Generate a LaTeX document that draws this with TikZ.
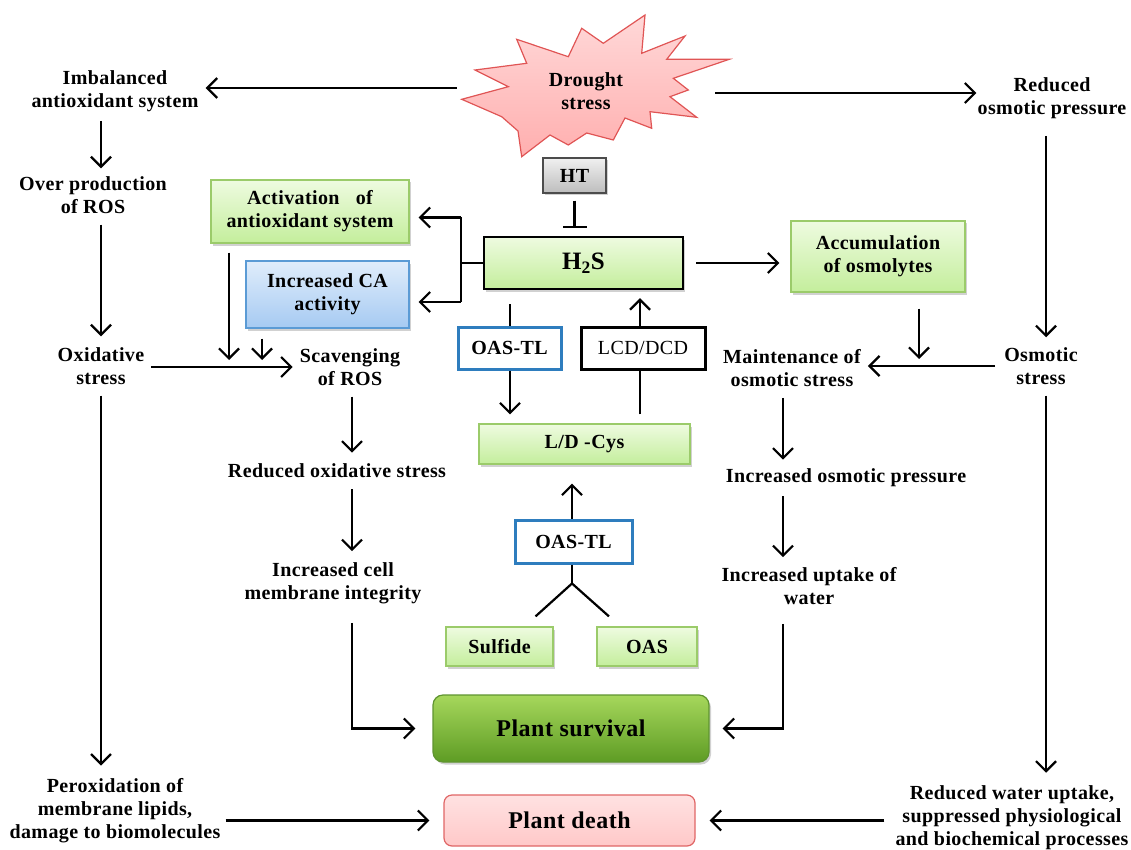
\documentclass[tikz,border=0pt]{standalone}
\usepackage{fontspec}
\setmainfont{Liberation Serif}[LetterSpace=2]
\usetikzlibrary{arrows.meta,shadows,calc}
\definecolor{gtop}{HTML}{EEFBE0}
\definecolor{gbot}{HTML}{C4EE9C}
\definecolor{gbord}{HTML}{9BCB6A}
\definecolor{btop}{HTML}{E0EDFB}
\definecolor{bbot}{HTML}{A6CAF2}
\definecolor{bbord}{HTML}{5B9BD5}
\definecolor{oasbord}{HTML}{2E7DBE}
\definecolor{htop}{HTML}{F0F0F0}
\definecolor{hbot}{HTML}{BDBDBD}
\definecolor{stop}{HTML}{A6D75C}
\definecolor{sbot}{HTML}{5E9C24}
\definecolor{sbord}{HTML}{5F9430}
\definecolor{dtop}{HTML}{FFE2E2}
\definecolor{dbot}{HTML}{FFC8C8}
\definecolor{dbord}{HTML}{E06666}
\definecolor{startop}{HTML}{FFD8D8}
\definecolor{starbot}{HTML}{FFAFAF}
\definecolor{starbord}{HTML}{E05555}
\begin{document}
\begin{tikzpicture}[x=1pt,y=-1pt,
  every node/.style={font=\fontsize{20}{23}\selectfont\bfseries},
  txt/.style={align=center,inner sep=5pt},
  ln/.style={line width=2.2pt},
  arr/.style={ln,-{Straight Barb[length=10pt,width=20pt,line width=2.2pt]}},
  shad/.style={drop shadow={shadow xshift=2pt,shadow yshift=-2.5pt,opacity=.3,fill=black!60}},
  gbox/.style={draw=gbord,line width=1.2pt,top color=gtop,bottom color=gbot,shad,inner sep=0pt,align=center},
  bbox/.style={draw=bbord,line width=1.2pt,top color=btop,bottom color=bbot,shad,inner sep=0pt,align=center},
  obox/.style={draw=oasbord,line width=3pt,fill=white,inner sep=0pt,align=center},
  kbox/.style={draw=black,line width=3pt,fill=white,inner sep=0pt,align=center,font=\fontsize{20}{23}\selectfont},
]
\useasboundingbox (0,0) rectangle (1131,850);

% column coordinates
\coordinate (cL) at (101,0);
\coordinate (cM) at (352,0);
\coordinate (cR1) at (783,0);
\coordinate (cR) at (1046,0);
\coordinate (cAct) at (229,0);
\coordinate (cCa) at (262,0);
\coordinate (cAcc) at (919,0);
\coordinate (cOas) at (510,0);
\coordinate (cLcd) at (640,0);
\coordinate (cMid) at (572,0);

% drought star
\draw[draw=starbord,line width=1.2pt,top color=startop,bottom color=starbot]
  (516.7,39.3) -- (568.3,56.7) -- (581.7,28.3) -- (603.3,43.3) -- (645,15)
  -- (641.7,53.3) -- (685,36) -- (666.7,59.3) -- (729.3,59.3) -- (673.3,78.3)
  -- (688.3,90) -- (670,96.7) -- (696.7,117.3) -- (650,111.7) -- (651.7,128.3)
  -- (625,118) -- (613.3,140) -- (586.7,133) -- (568.3,145) -- (550,135)
  -- (521.7,156.7) -- (518,131) -- (501.7,116.7) -- (461.7,99.3)
  -- (508.3,86.7) -- (475,70) -- (526.7,63.3) -- cycle;
\node[align=center,inner sep=0pt,minimum width=253pt,minimum height=40pt] (drought) at (586,91) {Drought\\stress};

% plain text nodes
\node[txt] (imb) at (115,91) {Imbalanced\\antioxidant system};
\node[txt] (over) at (93,195) {Over production\\of ROS};
\node[txt] (oxi) at (101,366) {Oxidative\\stress};
\node[txt] (perox) at (115,811) {Peroxidation of\\membrane lipids,\\damage to biomolecules};
\node[txt] (red) at (1052,98) {Reduced\\osmotic pressure};
\node[txt] (osm) at (1041,366) {Osmotic\\stress};
\node[txt] (rwu) at (1012,818) {Reduced water uptake,\\suppressed physiological\\and biochemical processes};
\node[txt] (scav) at (350,367) {Scavenging\\of ROS};
\node[txt] (rox) at (337,471) {Reduced oxidative stress};
\node[txt] (icm) at (333,583) {Increased cell\\membrane integrity};
\node[txt] (maint) at (792,368) {Maintenance of\\osmotic stress};
\node[txt] (iop) at (846,478) {Increased osmotic pressure};
\node[txt] (iuw) at (809,586) {Increased uptake of\\water};

% boxes
\node[gbox,minimum width=198pt,minimum height=63pt] (act) at (310,211.5) {Activation~~~of\\antioxidant system};
\node[bbox,minimum width=163pt,minimum height=67pt] (ca) at (327.5,294.5) {Increased CA\\activity};
\node[draw=black!70,line width=1.2pt,top color=htop,bottom color=hbot,shad,inner sep=0pt,minimum width=63pt,minimum height=35pt] (ht) at (574.5,175.5) {HT};
\node[draw=black,line width=2.4pt,top color=gtop,bottom color=gbot,shad,inner sep=0pt,minimum width=199pt,minimum height=52pt,font=\fontsize{25}{28}\selectfont\bfseries] (h2s) at (583.5,263) {H\textsubscript{2}S};
\node[gbox,minimum width=174pt,minimum height=71pt] (acc) at (878,256.5) {Accumulation\\of osmolytes};
\node[obox,minimum width=103pt,minimum height=42pt] (oas1) at (509.5,348) {OAS-TL};
\node[kbox,minimum width=124pt,minimum height=42pt] (lcd) at (643,348) {LCD/DCD};
\node[gbox,minimum width=211pt,minimum height=40pt] (cys) at (584.5,444) {L/D -Cys};
\node[obox,minimum width=117pt,minimum height=43pt] (oas2) at (573.5,541.5) {OAS-TL};
\node[gbox,minimum width=107pt,minimum height=39pt] (sulf) at (499.5,646.5) {Sulfide};
\node[gbox,minimum width=100pt,minimum height=39pt] (oas) at (647,646.5) {OAS};
\node[draw=sbord,line width=1.2pt,rounded corners=10pt,top color=stop,bottom color=sbot,shad,inner sep=0pt,minimum width=276pt,minimum height=67pt,font=\fontsize{24}{27}\selectfont\bfseries] (surv) at (571,728.5) {Plant survival};
\node[draw=dbord,line width=1.2pt,rounded corners=8pt,top color=dtop,bottom color=dbot,inner sep=0pt,minimum width=251pt,minimum height=51pt,font=\fontsize{24}{27}\selectfont\bfseries] (death) at (569.5,820.5) {Plant death};

% connectors from drought
\coordinate (dW) at ([xshift=-2.5pt,yshift=3pt]drought.west);
\coordinate (dE) at ([xshift=2.5pt,yshift=-2pt]drought.east);
\draw[arr,shorten >=2pt] (dW) -- (imb.east |- dW);
\draw[arr,shorten >=-4pt] (dE) -- (red.west |- dE);

% left column
\draw[arr,shorten <=4pt,shorten >=3pt] (imb.south -| cL) -- (over.north -| cL);
\draw[arr,shorten <=6pt,shorten >=6pt] (over.south -| cL) -- (oxi.north -| cL);
\draw[arr,shorten <=6pt,shorten >=8pt] (oxi.south -| cL) -- (perox.north -| cL);
\draw[arr,shorten >=14pt] (perox.east |- death.west) -- (death.west);

% right column
\draw[arr,shorten <=12pt,shorten >=5pt] (red.south -| cR) -- (osm.north -| cR);
\draw[arr,shorten <=6pt,shorten >=8pt] (osm.south -| cR) -- (rwu.north -| cR);
\draw[arr,shorten <=6pt,shorten >=14pt] (rwu.west |- death.east) -- (death.east);
\draw[arr,shorten <=4pt,shorten >=2pt] (osm.west) -- (maint.east |- osm.west);
\draw[arr,shorten <=16pt,shorten >=9pt] (acc.south -| cAcc) -- (maint.east -| cAcc);
\draw[arr,shorten <=6pt,shorten >=4pt] (maint.south -| cR1) -- (iop.north -| cR1);
\draw[arr,shorten <=4pt,shorten >=5pt] (iop.south -| cR1) -- (iuw.north -| cR1);
\draw[arr,shorten <=14pt,shorten >=13pt] (iuw.south -| cR1) |- (surv.east);

% middle-left
\draw[arr,shorten <=2pt,shorten >=2pt] (oxi.east |- scav.west) -- (scav.west);
\draw[arr,shorten <=9pt,shorten >=7pt] (act.south -| cAct) -- (scav.west -| cAct);
\draw[arr,shorten <=10pt,shorten >=7pt] (ca.south -| cCa) -- (scav.west -| cCa);
\draw[arr,shorten <=6pt,shorten >=6pt] (scav.south -| cM) -- (rox.north -| cM);
\draw[arr,shorten <=6pt,shorten >=6pt] (rox.south -| cM) -- (icm.north -| cM);
\draw[arr,shorten <=14pt,shorten >=17pt] (icm.south -| cM) |- (surv.west);

% H2S region
\draw[ln,-{Bar[width=24pt,line width=2pt]},shorten <=7pt,shorten >=8pt] (ht.south) -- (h2s.north -| ht.south);
\draw[arr,shorten <=12pt,shorten >=11pt] (h2s.east) -- (acc.west |- h2s.east);
\coordinate (br) at ($(h2s.west)+(-22,0)$);
\coordinate (aE) at ([xshift=9pt,yshift=-6pt]act.east);
\coordinate (cE) at ([xshift=9pt,yshift=-7.5pt]ca.east);
\draw[ln] (h2s.west) -- (br);
\draw[ln] (aE -| br) -- (cE -| br);
\draw[arr] (aE -| br) -- (aE);
\draw[arr] (cE -| br) -- (cE);
\draw[ln,shorten <=14pt] (h2s.south -| cOas) -- (oas1.north -| cOas);
\draw[arr,shorten >=9pt] (oas1.south -| cOas) -- (cys.north -| cOas);
\draw[ln,shorten <=9pt] (cys.north -| cLcd) -- (lcd.south -| cLcd);
\draw[arr,shorten >=8pt] (lcd.north -| cLcd) -- (h2s.south -| cLcd);
\draw[arr,shorten >=19pt] (oas2.north -| cMid) -- (cys.south -| cMid);
\coordinate (fork) at ($(oas2.south -| cMid)+(0,19)$);
\coordinate (s1) at ([xshift=36pt,yshift=10pt]sulf.north);
\coordinate (s2) at ([xshift=-38pt,yshift=10pt]oas.north);
\draw[ln] (oas2.south -| cMid) -- (fork);
\draw[ln] (s1) -- (fork) -- (s2);
\end{tikzpicture}
\end{document}
